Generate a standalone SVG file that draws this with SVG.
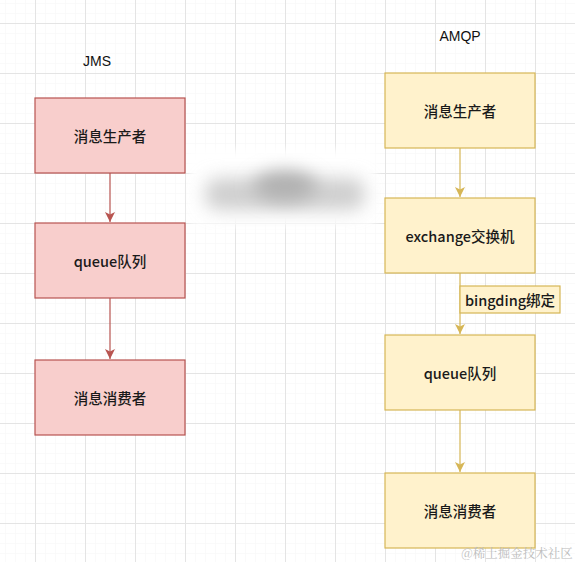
<svg xmlns="http://www.w3.org/2000/svg" width="575" height="562" viewBox="0 0 575 562">
  <defs>
    <pattern id="minor" x="5" y="3" width="10" height="10" patternUnits="userSpaceOnUse">
      <path d="M0 0H10M0 0V10" fill="none" stroke="#f6f6f6" stroke-width="1"/>
    </pattern>
    <pattern id="major" x="35" y="23" width="50" height="50" patternUnits="userSpaceOnUse">
      <path d="M0 0.5H50M0.5 0V50" fill="none" stroke="#e4e4e4" stroke-width="1"/>
    </pattern>
    <filter id="blur" x="-30%" y="-60%" width="160%" height="220%">
      <feGaussianBlur stdDeviation="9"/>
    </filter>
    <filter id="blur2" x="-20%" y="-40%" width="140%" height="180%">
      <feGaussianBlur stdDeviation="4"/>
    </filter>
    <marker id="arrR" viewBox="0 0 10 10" refX="10" refY="5" markerWidth="10" markerHeight="10" markerUnits="userSpaceOnUse" orient="auto">
      <path d="M0 0L10 5L0 10L2.5 5Z" fill="#b85450"/>
    </marker>
    <marker id="arrY" viewBox="0 0 10 10" refX="10" refY="5" markerWidth="10" markerHeight="10" markerUnits="userSpaceOnUse" orient="auto">
      <path d="M0 0L10 5L0 10L2.5 5Z" fill="#d6b656"/>
    </marker>
  </defs>
  <style>
    .red { fill: #f8cecc; stroke: #b85450; stroke-width: 1.2; }
    .yel { fill: #fff2cc; stroke: #d6b656; stroke-width: 1.2; }
    .t { font-family: "Noto Sans CJK SC", "Liberation Sans", sans-serif; font-size: 14.5px; font-weight: 500; fill: #1a1a1a; text-anchor: middle; dominant-baseline: central; }
    .title { font-family: "Liberation Sans", "Noto Sans CJK SC", sans-serif; font-size: 14px; fill: #111; text-anchor: middle; }
    .er { fill: none; stroke: #b85450; stroke-width: 1.2; }
    .ey { fill: none; stroke: #d6b656; stroke-width: 1.2; }
  </style>
  <rect width="575" height="562" fill="#ffffff"/>
  <rect width="575" height="562" fill="url(#minor)"/>
  <rect width="575" height="562" fill="url(#major)"/>

  <g id="blurred">
    <rect x="190" y="150" width="185" height="75" fill="#ffffff" filter="url(#blur2)"/>
    <rect x="205" y="178" width="160" height="32" rx="14" fill="#cfcfcf" filter="url(#blur)"/>
    <ellipse cx="285" cy="186" rx="32" ry="15" fill="#b0b0b0" filter="url(#blur)"/>
  </g>

  <text class="title" x="97" y="66">JMS</text>
  <text class="title" x="460" y="41">AMQP</text>

  <g id="connectors">
    <path class="er" d="M110 173V222" marker-end="url(#arrR)"/>
    <path class="er" d="M110 298V359" marker-end="url(#arrR)"/>
    <path class="ey" d="M460 148V197" marker-end="url(#arrY)"/>
    <path class="ey" d="M460 273V334" marker-end="url(#arrY)"/>
    <path class="ey" d="M460 410V472" marker-end="url(#arrY)"/>
  </g>

  <g id="jms-producer">
    <rect class="red" x="35" y="98" width="150" height="75"/>
    <text class="t" x="110" y="135">消息生产者</text>
  </g>
  <g id="jms-queue">
    <rect class="red" x="35" y="223" width="150" height="75"/>
    <text class="t" x="110" y="260">queue队列</text>
  </g>
  <g id="jms-consumer">
    <rect class="red" x="35" y="360" width="150" height="75"/>
    <text class="t" x="110" y="397">消息消费者</text>
  </g>

  <g id="amqp-producer">
    <rect class="yel" x="385" y="73" width="150" height="75"/>
    <text class="t" x="460" y="110">消息生产者</text>
  </g>
  <g id="amqp-exchange">
    <rect class="yel" x="385" y="198" width="150" height="75"/>
    <text class="t" x="460" y="235">exchange交换机</text>
  </g>
  <g id="binding-label">
    <rect class="yel" x="460" y="286" width="100" height="27" stroke-width="1"/>
    <text class="t" x="510" y="299">bingding绑定</text>
  </g>
  <g id="amqp-queue">
    <rect class="yel" x="385" y="335" width="150" height="75"/>
    <text class="t" x="460" y="372">queue队列</text>
  </g>
  <g id="amqp-consumer">
    <rect class="yel" x="385" y="473" width="150" height="75"/>
    <text class="t" x="460" y="510">消息消费者</text>
  </g>

  <text x="517" y="558" font-family="Noto Serif CJK SC, Noto Sans CJK SC, serif" font-size="12.5" fill="#bdbdbd" text-anchor="middle">@稀土掘金技术社区</text>
</svg>
